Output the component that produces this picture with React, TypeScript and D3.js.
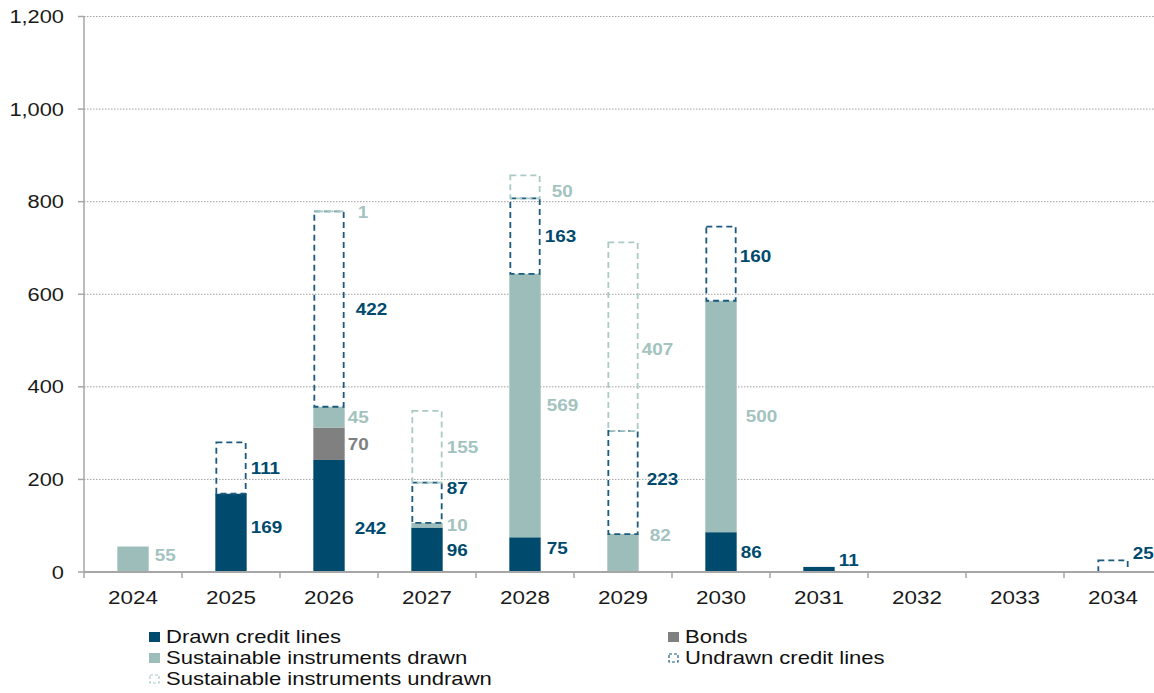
import React from "react";
import * as d3 from "d3";

const years = ["2024", "2025", "2026", "2027", "2028", "2029", "2030", "2031", "2032", "2033", "2034"];
const drawnCredit = [0, 169, 242, 96, 75, 0, 86, 11, 0, 0, 0];
const bonds = [0, 0, 70, 0, 0, 0, 0, 0, 0, 0, 0];
const sustDrawn = [55, 0, 45, 10, 569, 82, 500, 0, 0, 0, 0];
const undrawnCredit = [0, 111, 422, 87, 163, 223, 160, 0, 0, 0, 25];
const sustUndrawn = [0, 0, 1, 155, 50, 407, 0, 0, 0, 0, 0];
const yTicks = [0, 200, 400, 600, 800, 1000, 1200];

const seriesNames = [
  "Drawn credit lines",
  "Bonds",
  "Sustainable instruments drawn",
  "Undrawn credit lines",
  "Sustainable instruments undrawn",
];

// styles
const NAVY = "#004a6d";
const GREY = "#808080";
const TEAL = "#9cbdb9";
const DASH_NAVY = "#1a5a7e";
const DASH_TEAL = "#a9cac5";
const LABEL_TEAL = "#a3c3bf";
const seriesStyle = [
  { kind: "fill", color: NAVY, label: NAVY },
  { kind: "fill", color: GREY, label: GREY },
  { kind: "fill", color: TEAL, label: LABEL_TEAL },
  { kind: "dash", color: DASH_NAVY, label: NAVY },
  { kind: "dash", color: DASH_TEAL, label: LABEL_TEAL },
];

// manual label nudges (px) as in the original chart, key "yearIndex-seriesIndex"
const labelNudge: Record<string, [number, number]> = {
  "0-2": [2, -4],
  "1-0": [0, -6],
  "2-0": [6, 12],
  "2-3": [7, 0],
  "2-1": [-1, 0],
  "2-2": [-1, 0],
  "2-4": [9, 1],
  "3-3": [0, -15],
  "4-0": [2, -6],
  "4-4": [7, 4],
  "4-2": [2, 0],
  "5-2": [7, -18],
  "5-3": [4, -3],
  "5-4": [-1, 13],
  "6-3": [-1, -7],
  "6-2": [5, 0],
  "7-0": [0, -9],
  "10-3": [0, -13],
};

const W = 1154;
const H = 693;
const X0 = 84;
const X1 = 84 + 11 * 98;
const Y0 = 572;
const Y1 = 16.5;
const SX = 1.18;
const FONT = "'Liberation Sans', Arial, Helvetica, sans-serif";

function T(props: {
  x: number;
  y: number;
  anchor?: string;
  size: number;
  weight?: string | number;
  fill: string;
  sx?: number;
  children: React.ReactNode;
}) {
  return (
    <text
      transform={`translate(${props.x},${props.y}) scale(${props.sx || SX},1)`}
      textAnchor={props.anchor || "start"}
      fontSize={props.size}
      fontWeight={props.weight || "normal"}
      fill={props.fill}
      fontFamily={FONT}
    >
      {props.children}
    </text>
  );
}

export default function App() {
  const x = d3.scaleBand<string>().domain(years).range([X0, X1]).paddingInner(0.68).paddingOuter(0.34);
  const y = d3.scaleLinear().domain([0, 1200]).range([Y0, Y1]);

  const table = years.map((yr, i) => ({
    year: yr,
    s0: drawnCredit[i],
    s1: bonds[i],
    s2: sustDrawn[i],
    s3: undrawnCredit[i],
    s4: sustUndrawn[i],
  }));
  const keys = ["s0", "s1", "s2", "s3", "s4"];
  const stacked = d3.stack<any>().keys(keys)(table);

  const bw = x.bandwidth();
  const step = x.step();

  const bars: React.ReactNode[] = [];
  const labels: React.ReactNode[] = [];
  stacked.forEach((layer, si) => {
    const st = seriesStyle[si];
    layer.forEach((d, i) => {
      const v = d[1] - d[0];
      if (v <= 0) return;
      const bx = x(years[i])!;
      const yTop = y(d[1]);
      const yBot = y(d[0]);
      if (st.kind === "fill") {
        bars.push(
          <rect key={`b${si}-${i}`} x={bx} y={yTop} width={bw} height={yBot - yTop} fill={st.color} />
        );
      } else {
        bars.push(
          <rect
            key={`b${si}-${i}`}
            x={bx + 1}
            y={yTop}
            width={bw - 2}
            height={Math.max(0.5, yBot - yTop)}
            fill="none"
            stroke={st.color}
            strokeWidth={1.8}
            strokeDasharray="6,4"
          />
        );
      }
      const nud = labelNudge[`${i}-${si}`] || [0, 0];
      const cy = (yTop + yBot) / 2 + nud[1];
      labels.push(
        <T
          key={`l${si}-${i}`}
          x={bx + bw + 4 + nud[0]}
          y={cy + 5.8}
          size={16}
          weight="bold"
          fill={st.label}
        >
          {String(v)}
        </T>
      );
    });
  });

  const legendRows = [643, 664, 685];
  const legendCols = [149, 668];
  const legendPos = [
    [0, 0],
    [1, 0],
    [0, 1],
    [1, 1],
    [0, 2],
  ];

  return (
    <svg
      width={W}
      height={H}
      style={{ position: "absolute", left: 0, top: 0, background: "#fff" }}
    >
      <rect x={0} y={0} width={W} height={H} fill="#fff" />
      {/* gridlines */}
      {yTicks
        .filter((t) => t > 0)
        .map((t) => (
          <line
            key={`g${t}`}
            x1={X0}
            x2={W}
            y1={y(t)}
            y2={y(t)}
            stroke="#a0a0a0"
            strokeWidth={1}
            strokeDasharray="1.5,1.5"
          />
        ))}
      {bars}
      {/* axes */}
      <line x1={X0} x2={X0} y1={Y1} y2={Y0 + 6} stroke="#a6a6a6" strokeWidth={1.5} />
      <line x1={X0} x2={W} y1={Y0} y2={Y0} stroke="#a6a6a6" strokeWidth={2} />
      {yTicks.map((t) => (
        <line key={`yt${t}`} x1={X0 - 6} x2={X0} y1={y(t)} y2={y(t)} stroke="#a6a6a6" strokeWidth={1.5} />
      ))}
      {years.slice(1).map((yr) => (
        <line
          key={`xt${yr}`}
          x1={x(yr)! - (step - bw) / 2}
          x2={x(yr)! - (step - bw) / 2}
          y1={Y0}
          y2={Y0 + 6}
          stroke="#a6a6a6"
          strokeWidth={1.5}
        />
      ))}
      {yTicks.map((t) => (
        <T key={`yl${t}`} x={64} y={y(t) + 6.6} anchor="end" size={18.5} fill="#1a1a1a">
          {d3.format(",")(t)}
        </T>
      ))}
      {years.map((yr) => (
        <T key={`xl${yr}`} x={x(yr)! + bw / 2} y={604} anchor="middle" size={19} fill="#1a1a1a">
          {yr}
        </T>
      ))}
      {labels}
      {/* legend */}
      {seriesNames.map((name, si) => {
        const [c, r] = legendPos[si];
        const lx = legendCols[c];
        const ly = legendRows[r];
        const st = seriesStyle[si];
        return (
          <g key={`lg${si}`}>
            {st.kind === "fill" ? (
              <rect x={lx} y={ly - 11} width={11} height={10} fill={st.color} />
            ) : (
              <rect
                x={lx + 1}
                y={ly - 10}
                width={9}
                height={8}
                fill="none"
                stroke={st.color}
                strokeWidth={1.2}
                strokeDasharray="3,2"
              />
            )}
            <T x={lx + 17} y={ly} size={17.5} sx={1.26} fill="#111">
              {name}
            </T>
          </g>
        );
      })}
    </svg>
  );
}
